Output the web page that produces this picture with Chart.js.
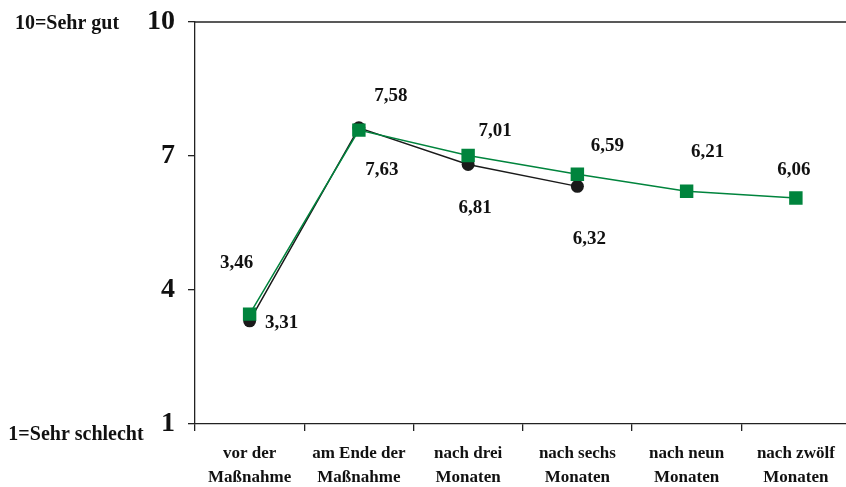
<!DOCTYPE html>
<html>
<head>
<meta charset="utf-8">
<script src="https://cdn.jsdelivr.net/npm/chart.js@4/dist/chart.umd.min.js"></script>
<style>
  html, body { margin: 0; padding: 0; background: #fff; overflow: hidden; width: 846px; height: 487px; }
  #wrap { width: 860px; height: 487px; }
</style>
</head>
<body>
<div id="wrap"><canvas id="c" width="860" height="487"></canvas></div>
<script>
// Zeitpunkte der Befragung
const categories = [
  ['vor der', 'Maßnahme'],
  ['am Ende der', 'Maßnahme'],
  ['nach drei', 'Monaten'],
  ['nach sechs', 'Monaten'],
  ['nach neun', 'Monaten'],
  ['nach zwölf', 'Monaten']
];
// Mittelwerte (1 = sehr schlecht, 10 = sehr gut)
const greenValues = [3.46, 7.58, 7.01, 6.59, 6.21, 6.06];
const blackValues = [3.31, 7.63, 6.81, 6.32, null, null];
const yTicks = [1, 4, 7, 10];
const scaleTop = '10=Sehr gut';
const scaleBottom = '1=Sehr schlecht';

const GREEN = '#00843d';
const BLACK = '#1a1a1a';
const SERIF = '"Liberation Serif", "Times New Roman", serif';

function fmt(v) { return v.toFixed(2).replace('.', ','); }

// Beschriftung der Punkte, versetzt um (dx, dy) Pixel
const labelOffsets = {
  0: [[-13, -51], [32, -34], [27, -24], [30, -28], [21, -39], [-2, -28]],
  1: [[32, 2], [23, 42], [7, 44], [12, 53]]
};

const annotate = {
  id: 'annotate',
  afterDatasetsDraw(chart) {
    const ctx = chart.ctx;
    const { left, right, top } = chart.chartArea;
    const y = chart.scales.y;
    ctx.save();
    // obere Begrenzung
    ctx.strokeStyle = '#222';
    ctx.lineWidth = 1.3;
    ctx.beginPath();
    ctx.moveTo(left, top);
    ctx.lineTo(right, top);
    ctx.stroke();

    ctx.fillStyle = '#111';
    ctx.textAlign = 'center';
    ctx.textBaseline = 'middle';
    ctx.font = 'bold 20px ' + SERIF;
    ctx.fillText(scaleTop, 67, y.getPixelForValue(10) + 2);
    ctx.fillText(scaleBottom, 76, y.getPixelForValue(1) + 11);

    ctx.font = 'bold 19px ' + SERIF;
    chart.data.datasets.forEach((ds, di) => {
      const meta = chart.getDatasetMeta(di);
      const offs = labelOffsets[di];
      ds.data.forEach((v, i) => {
        if (v == null || !offs[i]) return;
        const pt = meta.data[i];
        ctx.fillText(fmt(v), pt.x + offs[i][0], pt.y + offs[i][1]);
      });
    });
    ctx.restore();
  }
};

new Chart(document.getElementById('c'), {
  type: 'line',
  data: {
    labels: categories,
    datasets: [
      {
        data: greenValues,
        borderColor: GREEN,
        backgroundColor: GREEN,
        borderWidth: 1.5,
        pointStyle: 'rect',
        pointRadius: 9.5,
        pointBorderWidth: 0,
        tension: 0,
        order: 0
      },
      {
        data: blackValues,
        borderColor: BLACK,
        backgroundColor: BLACK,
        borderWidth: 1.5,
        pointStyle: 'circle',
        pointRadius: 6.5,
        pointBorderWidth: 0,
        tension: 0,
        spanGaps: false,
        order: 1
      }
    ]
  },
  options: {
    responsive: false,
    animation: false,
    events: [],
    layout: { padding: { top: 22, right: 5, left: 0, bottom: 0 } },
    plugins: { legend: { display: false }, tooltip: { enabled: false } },
    scales: {
      x: {
        type: 'category',
        offset: true,
        grid: { offset: true, drawOnChartArea: false, drawTicks: true, tickLength: 7, tickColor: '#222', lineWidth: 1.3 },
        border: { display: true, color: '#222', width: 1.3 },
        ticks: {
          color: '#111',
          font: { family: SERIF, size: 17, weight: 'bold', lineHeight: 1.38 },
          padding: 11,
          maxRotation: 0,
          autoSkip: false
        },
        afterFit(scale) {
          scale.height = 63;
          scale.paddingLeft = 0;
          scale.paddingRight = 0;
        }
      },
      y: {
        min: 1,
        max: 10,
        afterBuildTicks(scale) { scale.ticks = yTicks.map(v => ({ value: v })); },
        grid: { drawOnChartArea: false, drawTicks: true, tickLength: 7, tickColor: '#222', lineWidth: 1.3 },
        border: { display: true, color: '#222', width: 1.3 },
        ticks: {
          color: '#111',
          font: { family: SERIF, size: 28, weight: 'bold' },
          padding: 13
        },
        afterFit(scale) {
          scale.width = 195;
          scale.paddingTop = 0;
          scale.paddingBottom = 0;
        }
      }
    }
  },
  plugins: [annotate]
});
</script>
</body>
</html>
